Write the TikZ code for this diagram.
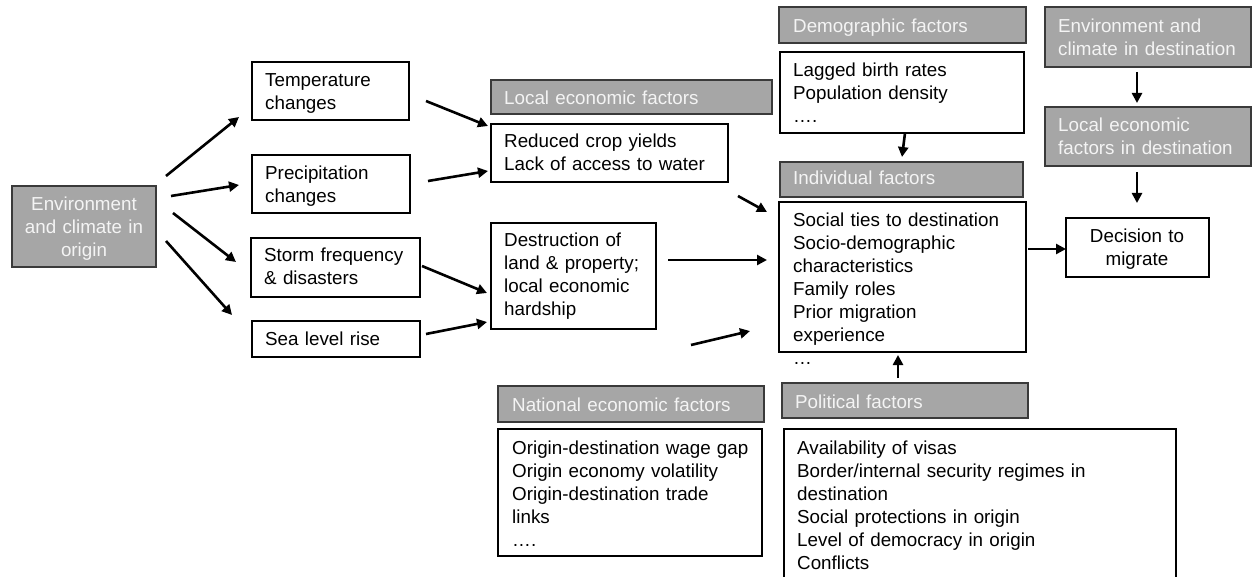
\documentclass[tikz,border=0pt]{standalone}
\usepackage{fontspec}
\setmainfont{Liberation Sans}
\usetikzlibrary{arrows.meta}
\definecolor{hfill}{HTML}{A6A6A6}
\definecolor{hline}{HTML}{3A3A3A}
\definecolor{htext}{HTML}{F4F4F4}
\begin{document}
\begin{tikzpicture}[x=1bp,y=-1bp,
  box/.style={draw=black, line width=1.8bp, fill=white, inner sep=0pt, outer sep=0pt, anchor=north west},
  hdr/.style={box, draw=hline, fill=hfill},
  txt/.style={font=\fontsize{18.8bp}{23bp}\selectfont, inner sep=0pt, anchor=base west, align=left, text width=420bp},
  htxt/.style={txt, text=htext},
  ctxt/.style={font=\fontsize{18.8bp}{23bp}\selectfont, inner sep=0pt, anchor=base, align=center, text width=170bp},
  arr/.style={-{Triangle[length=10bp,width=10bp]}, line width=2.6bp}
]
\useasboundingbox (0,0) rectangle (1254,577);
\clip (0,0) rectangle (1254,577);
\fill[white] (0,0) rectangle (1254,577);

% boxes
\node[hdr, minimum width=144bp, minimum height=81bp] (orig) at (12,186) {};
\node[box, minimum width=157bp, minimum height=58bp] (temp) at (252,62) {};
\node[box, minimum width=158bp, minimum height=58bp] (precip) at (252,155) {};
\node[box, minimum width=169bp, minimum height=59bp] (storm) at (251,238) {};
\node[box, minimum width=168bp, minimum height=36bp] (sea) at (252,321) {};

\node[hdr, minimum width=281bp, minimum height=34bp] (lochdr) at (491,80) {};
\node[box, minimum width=237bp, minimum height=58bp] (crop) at (491,124) {};
\node[box, minimum width=165bp, minimum height=106bp] (destr) at (491,223) {};

\node[hdr, minimum width=247bp, minimum height=36bp] (demhdr) at (779,7) {};
\node[box, minimum width=244bp, minimum height=81bp] (dem) at (780,52) {};
\node[hdr, minimum width=243bp, minimum height=35bp] (indhdr) at (780,162) {};
\node[box, minimum width=247bp, minimum height=150bp] (ind) at (779,202) {};

\node[hdr, minimum width=206bp, minimum height=60bp] (envdest) at (1045,7) {};
\node[hdr, minimum width=206bp, minimum height=59bp] (locdest) at (1045,107) {};
\node[box, minimum width=143bp, minimum height=59bp] (dec) at (1066,218) {};

\node[hdr, minimum width=266bp, minimum height=36bp] (nathdr) at (498,386) {};
\node[box, minimum width=264bp, minimum height=127bp] (nat) at (498,429) {};
\node[hdr, minimum width=246bp, minimum height=35bp] (polhdr) at (782,383) {};
\node[box, minimum width=392bp, minimum height=180bp] (pol) at (784,429) {};

% texts
\node[ctxt, text=htext] (origT) at (84,211) {Environment\\and climate in\\origin};
\node[txt] (tempT) at (265,87) {Temperature\\changes};
\node[txt] (precipT) at (265,180) {Precipitation\\changes};
\node[txt] (stormT) at (264,262) {Storm frequency\\\& disasters};
\node[txt] (seaT) at (265,346) {Sea level rise};

\node[htxt] (lochdrT) at (504,105) {Local economic factors};
\node[txt] (cropT) at (504,148) {Reduced crop yields\\Lack of access to water};
\node[txt] (destrT) at (504,247) {Destruction of\\land \& property;\\local economic\\hardship};

\node[htxt] (demhdrT) at (793,33) {Demographic factors};
\node[txt] (demT) at (793,77) {Lagged birth rates\\Population density\\….};
\node[htxt] (indhdrT) at (793,185) {Individual factors};
\node[txt] (indT) at (793,227) {Social ties to destination\\Socio-demographic\\characteristics\\Family roles\\Prior migration\\experience\\…};

\node[htxt] (envdestT) at (1058,33) {Environment and\\climate in destination};
\node[htxt] (locdestT) at (1058,132) {Local economic\\factors in destination};
\node[ctxt] (decT) at (1137,243) {Decision to\\migrate};

\node[htxt] (nathdrT) at (512,411) {National economic factors};
\node[txt] (natT) at (512,454) {Origin-destination wage gap\\Origin economy volatility\\Origin-destination trade\\links\\….};
\node[htxt] (polhdrT) at (795,408) {Political factors};
\node[txt] (polT) at (797,454) {Availability of visas\\Border/internal security regimes in\\destination\\Social protections in origin\\Level of democracy in origin\\Conflicts};

% arrow end points
\coordinate (a1s) at (166,176);  \coordinate (a1e) at (239,117);
\coordinate (a2s) at (171,196);  \coordinate (a2e) at (239,185);
\coordinate (a3s) at (173,213);  \coordinate (a3e) at (236,262);
\coordinate (a4s) at (166,241);  \coordinate (a4e) at (232,315);
\coordinate (a5s) at (426,101);  \coordinate (a5e) at (488,126);
\coordinate (a6s) at (428,181);  \coordinate (a6e) at (488,171);
\coordinate (a7s) at (422,266);  \coordinate (a7e) at (487,293);
\coordinate (a8s) at (426,334);  \coordinate (a8e) at (487,322);
\coordinate (a9s) at (738,196);  \coordinate (a9e) at (767,212);
\coordinate (a10s) at (668,260); \coordinate (a10e) at (767,260);
\coordinate (a11s) at (691,345); \coordinate (a11e) at (750,331);
\coordinate (a12s) at (905,133); \coordinate (a12e) at (902,157);
\coordinate (a13s) at (1028,249); \coordinate (a13e) at (1066,249);
\coordinate (a14s) at (1137,72); \coordinate (a14e) at (1137,103);
\coordinate (a15s) at (1137,172); \coordinate (a15e) at (1137,203);
\coordinate (a16s) at (898,378); \coordinate (a16e) at (898,355);

\foreach \i in {1,...,16} {\draw[arr] (a\i s) -- (a\i e);}
\end{tikzpicture}
\end{document}
